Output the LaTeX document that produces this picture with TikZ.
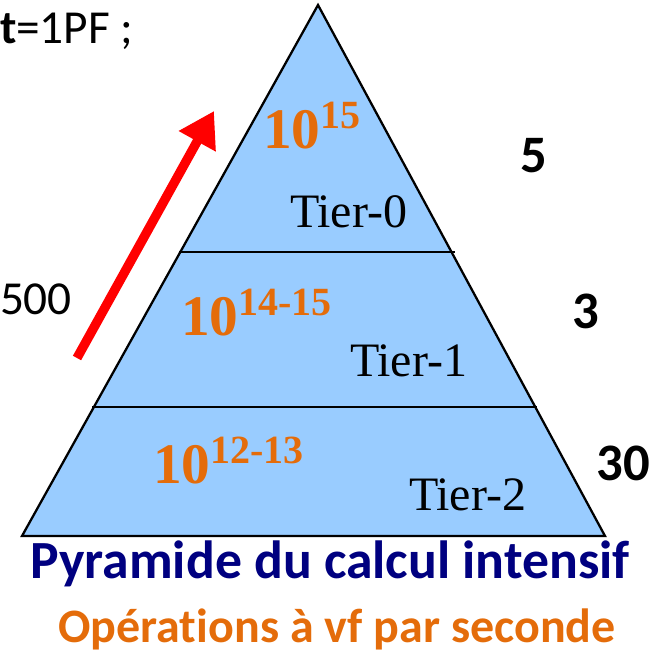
\documentclass[tikz,border=0pt]{standalone}
\usepackage{fontspec}
\setmainfont{Carlito}[Ligatures=NoCommon]
\newfontfamily\timesf{Liberation Serif}
\usetikzlibrary{arrows.meta}
\definecolor{pyrfill}{HTML}{99CCFF}
\definecolor{orangeT}{HTML}{E46C0A}
\definecolor{navyT}{HTML}{000080}
\definecolor{redA}{HTML}{FF0000}
\newcommand{\powten}[1]{{\timesf\bfseries\fontsize{43}{43}\selectfont 10\raisebox{15pt}{\fontsize{30}{30}\selectfont #1}}}
\begin{document}
\begin{tikzpicture}[x=0.75pt,y=-0.75pt,
  txt/.style={anchor=base west, inner sep=0pt, outer sep=0pt},
  ctxt/.style={anchor=base, inner sep=0pt, outer sep=0pt},
  tier/.style={txt, font=\timesf\fontsize{36}{36}\selectfont},
  pow/.style={txt, text=orangeT},
  side/.style={ctxt, font=\bfseries\fontsize{39.5}{39.5}\selectfont},
  plain/.style={txt, font=\fontsize{35.5}{35.5}\selectfont},
  edge/.style={line width=1.7pt, line join=miter},
  redarrow/.style={draw=redA, line width=7pt, -{Triangle[length=26pt,width=30pt]}}
]
\useasboundingbox (0,0) rectangle (656,655);
% pyramid
\coordinate (apex) at (318,5);
\coordinate (bl) at (22,536);
\coordinate (br) at (605,536);
\filldraw[edge, fill=pyrfill] (apex) -- (br) -- (bl) -- cycle;
\coordinate (d1a) at (179,252);
\coordinate (d1b) at (455,252);
\coordinate (d2a) at (92,407);
\coordinate (d2b) at (537,407);
\draw[edge] (d1a) -- (d1b);
\draw[edge] (d2a) -- (d2b);
% arrow
\coordinate (arrtail) at (77,358);
\coordinate (arrtip) at (214,111);
\draw[redarrow] (arrtail) -- (arrtip);
% texts
\node[plain] (tpf) at (0,44) {\textbf{t}=1PF ;};
\node[plain] (n500) at (0,315) {500};
\node[side] (s5) at (534,173) {5};
\node[side] (s3) at (586,329) {3};
\node[side] (s30) at (623,480) {30};
\node[pow] (p0) at (263,149) {\powten{15}};
\node[pow] (p1) at (181,336) {\powten{14-15}};
\node[pow] (p2) at (153,483) {\powten{12-13}};
\node[tier] (t0) at (290,228) {Tier-0};
\node[tier] (t1) at (350,377) {Tier-1};
\node[tier] (t2) at (409,510) {Tier-2};
\node[ctxt, text=navyT, font=\bfseries\fontsize{40.3}{40.3}\selectfont] (title) at (330,578) {Pyramide du calcul intensif};
\node[ctxt, text=orangeT, font=\bfseries\fontsize{36}{36}\selectfont] (sub) at (337,642) {Opérations à vf par seconde};
\end{tikzpicture}
\end{document}
